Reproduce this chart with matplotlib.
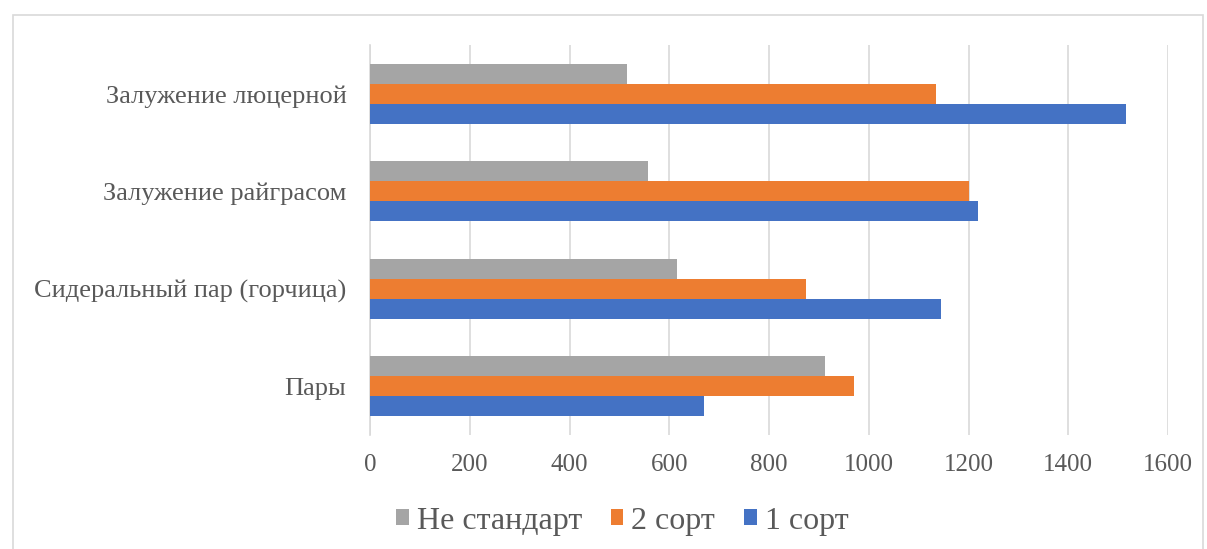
import matplotlib
matplotlib.use("Agg")
import matplotlib.pyplot as plt
import numpy as np
from matplotlib.patches import Rectangle

categories = ["Пары", "Сидеральный пар (горчица)", "Залужение райграсом", "Залужение люцерной"]
sort1 = [670, 1145, 1220, 1515]
sort2 = [970, 875, 1200, 1135]
nestandart = [913, 615, 558, 515]
series_names = ["1 сорт", "2 сорт", "Не стандарт"]
colors = ["#4472C4", "#ED7D31", "#A5A5A5"]
xticks = [0, 200, 400, 600, 800, 1000, 1200, 1400, 1600]

plt.rcParams['font.family'] = ['Liberation Serif', 'DejaVu Serif']

W, H = 1207, 549
fig = plt.figure(figsize=(W/100, H/100), dpi=100)
ax = fig.add_axes([370/W, 1 - 435/H, (1168-370)/W, (435-45)/H])

# chart border
fig.patches.append(Rectangle((13/W, -0.05), (1203-13)/W, 1 + 0.05 - 15/H,
                             transform=fig.transFigure, fill=False,
                             edgecolor="#D9D9D9", linewidth=1.2))

y = np.arange(len(categories))
h = 0.205
for i, (vals, name, c) in enumerate(zip([sort1, sort2, nestandart], series_names, colors)):
    ax.barh(y + (i - 1) * h, vals, height=h, color=c, label=name, zorder=3)

ax.set_xlim(0, 1600)
ax.set_ylim(-0.5, len(categories) - 0.5)
ax.set_xticks(xticks)
ax.set_xticklabels([str(t) for t in xticks])
ax.set_yticks(y)
ax.set_yticklabels(categories, fontsize=19)
ax.grid(axis='x', color="#D9D9D9", linewidth=1.2, zorder=0)
for s in ['top', 'right', 'bottom']:
    ax.spines[s].set_visible(False)
ax.spines['left'].set_color("#D9D9D9")
ax.spines['left'].set_linewidth(1.2)
ax.tick_params(axis='both', length=0, colors="#595959")
ax.tick_params(axis='x', pad=14, labelsize=18)
ax.tick_params(axis='y', pad=17)

handles, labels = ax.get_legend_handles_labels()
leg = fig.legend(handles[::-1], labels[::-1], loc='center', bbox_to_anchor=(622/W, 1 - 521/H),
                 ncol=3, frameon=False, fontsize=23, handlelength=0.4, handleheight=0.4,
                 handletextpad=0.25, columnspacing=0.9)
for t in leg.get_texts():
    t.set_color("#595959")

fig.savefig("out.png", dpi=100)
